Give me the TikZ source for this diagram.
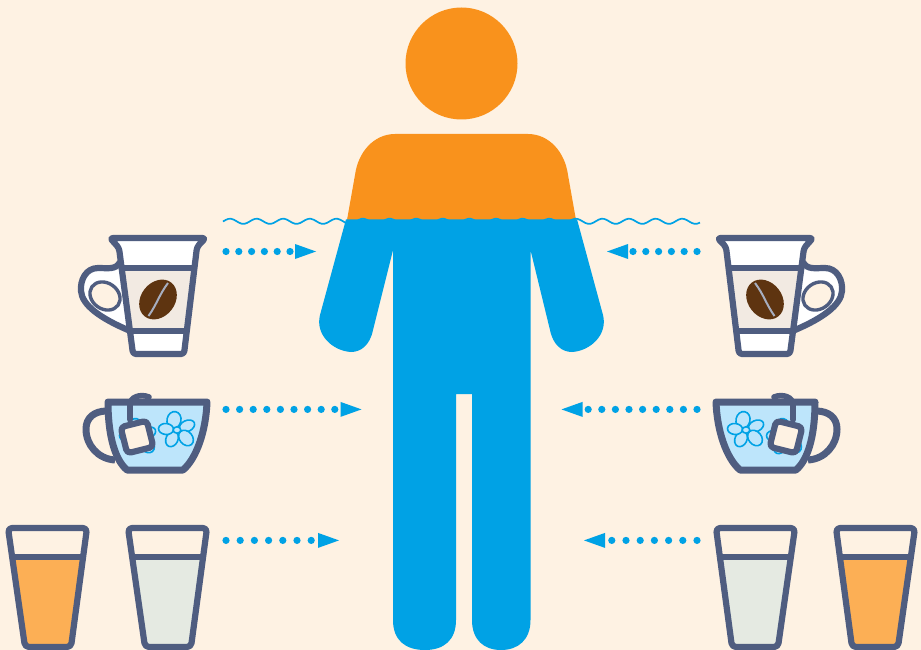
\documentclass[tikz,border=0pt]{standalone}
\usepackage{tikz}
\usetikzlibrary{arrows.meta}
\usepackage{xcolor}
\definecolor{paper}{HTML}{FEF2E3}
\definecolor{skin}{HTML}{F9921C}
\definecolor{water}{HTML}{00A2E5}
\definecolor{ink}{HTML}{4F5D80}
\definecolor{juice}{HTML}{FCAF55}
\definecolor{milk}{HTML}{E5EAE2}
\definecolor{crema}{HTML}{F2EAE2}
\definecolor{bean}{HTML}{5E3410}
\definecolor{tea}{HTML}{BDE5FB}

\tikzset{
    outline/.style={draw=ink, line width=6.2pt, line join=round},
    thickline/.style={draw=ink, line width=7pt, line join=round},
    petal/.style={draw=water, fill=tea, line width=1.6pt},
    flow/.style={
        draw=water,
        line width=7.2pt,
        line cap=round,
        dash pattern=on 0pt off #1pt,
        -{Triangle[length=21pt,width=15pt,line width=0pt]}
    },
    pics/flower/.style={code={
        \draw[petal] (-3,-10) ellipse [x radius=7, y radius=8.5, rotate=-12];
        \draw[petal] (10,-4) ellipse [x radius=8, y radius=5.5, rotate=25];
        \draw[petal] (9,8) ellipse [x radius=8.5, y radius=6.5, rotate=-50];
        \draw[petal] (-5,9) ellipse [x radius=6, y radius=8, rotate=-25];
        \draw[petal] (-11,-1) ellipse [x radius=7.5, y radius=5.5, rotate=-5];
        \draw[petal] (0,0) ellipse [x radius=3.8, y radius=3.2];
    }},
    pics/coffeecup/.style={code={
        % Handle
        \fill[white] (120,262) .. controls (116,270) and (108,268) .. (98,268)
            .. controls (86,268) and (80,280) .. (81,291)
            .. controls (82,305) and (100,318) .. (128,330) -- cycle;
        \draw[outline] (120,262) .. controls (116,270) and (108,268) .. (98,268)
            .. controls (86,268) and (80,280) .. (81,291)
            .. controls (82,305) and (100,318) .. (128,330);
        \draw[draw=ink, line width=3.4pt, fill=paper] (105,296) ellipse [x radius=16, y radius=13, rotate=-35];
        % Body
        \fill[white, rounded corners=3pt] (110,238) -- (205.5,238) -- (197,247) -- (184,354) -- (133,354) -- (119,248) -- cycle;
        \fill[crema] (121.6,268) -- (194.4,268) -- (186.8,331) -- (130,331) -- cycle;
        \draw[outline] (121.6,268) -- (194.4,268);
        \draw[outline] (130,331) -- (186.8,331);
        \draw[outline, rounded corners=3pt] (110,238) -- (205.5,238) -- (197,247) -- (184,354) -- (133,354) -- (119,248) -- cycle;
        % Bean
        \fill[bean] (158,299.5) ellipse [x radius=21.5, y radius=17, rotate=52];
        \draw[draw=ink!50, line width=2pt] (148.5,316) .. controls (157,304) and (159,295) .. (168,283);
    }},
    pics/teacup/.style={code={
        % Handle
        \draw[thickline] (107,411) .. controls (94,411) and (86,418) .. (86,429)
            .. controls (86,445) and (98,459) .. (115,460);
        % Body
        \draw[thickline, fill=tea] (108,402) .. controls (108,430) and (113,458) .. (127,470)
            -- (183,470) .. controls (197,458) and (206,430) .. (207,402) -- cycle;
        \pic at (177,430) {flower};
        \pic at (138,437) {flower};
        % Tag
        \draw[draw=ink, line width=5.6pt, line cap=round] (130,420) -- (130,405)
            .. controls (130,397) and (140,393.5) .. (149,397);
        \draw[outline, fill=paper, rounded corners=4pt, rotate around={14:(137,437)}]
            (123.5,423.5) rectangle (150.5,450.5);
    }},
    pics/glass/.style={code={
        \fill[#1] (12.2,557.3) -- (83,557.3) -- (71,647) -- (25,647) -- cycle;
        \draw[outline] (12.2,557.3) -- (83,557.3);
        \draw[outline, rounded corners=4pt] (8,528) -- (87,528) -- (71,647) -- (25,647) -- cycle;
    }}
}

\begin{document}
\begin{tikzpicture}[x=1pt, y=-1pt]
    \fill[paper] (0,0) rectangle (921,650);
    \useasboundingbox (0,0) rectangle (921,650);

    % Head and shoulders
    \node[circle, fill=skin, inner sep=0pt, minimum size=112pt] (head) at (461.5,63.5) {};
    \fill[skin] (347,220) -- (355,175) .. controls (358,152) and (374,134) .. (395,134)
        -- (528,134) .. controls (549,134) and (565,152) .. (568,175) -- (576,220) -- cycle;

    % Water line
    \draw[water, line width=1.7pt] plot[domain=0:477, samples=180]
        (223+\x, {221.3 - 2.6*cos((\x-7)*13.534)});

    % Body
    \fill[water] (346,219.3) -- (577,219.3) -- (603,315)
        .. controls (608,335) and (590,351) .. (572,352)
        .. controls (562,352) and (553,345) .. (550,330)
        -- (530.5,250) -- (530.5,620)
        .. controls (530.5,640) and (518,650) .. (501,650)
        .. controls (484,650) and (472,640) .. (472,620)
        -- (472,394) -- (456,394) -- (456,620)
        .. controls (456,640) and (444,650) .. (425,650)
        .. controls (405,650) and (393,640) .. (393,620)
        -- (393,250) -- (373,330)
        .. controls (370,345) and (361,352) .. (351,352)
        .. controls (333,351) and (315,335) .. (320,315) -- cycle;

    % Drinks, left
    \pic at (0,0) {coffeecup};
    \pic at (0,0) {teacup};
    \pic at (0,0) {glass=juice};
    \pic at (120,0) {glass=milk};

    % Drinks, right
    \pic[xscale=-1] at (923,0) {coffeecup};
    \pic[xscale=-1] at (923,0) {teacup};
    \pic[xscale=-1] at (923,0) {glass=juice};
    \pic[xscale=-1] at (803,0) {glass=milk};

    % Arrow ends
    \coordinate (coffeeL) at (226,251.5);
    \coordinate (coffeeLtip) at (316,251.5);
    \coordinate (teaL) at (226,409.4);
    \coordinate (teaLtip) at (361.5,409.4);
    \coordinate (glassL) at (226,540.4);
    \coordinate (glassLtip) at (339,540.4);
    \coordinate (coffeeR) at (697,251.5);
    \coordinate (coffeeRtip) at (607,251.5);
    \coordinate (teaR) at (697,409.4);
    \coordinate (teaRtip) at (561.5,409.4);
    \coordinate (glassR) at (697,540.4);
    \coordinate (glassRtip) at (584,540.4);

    % Arrows
    \draw[flow=12.8] (coffeeL) -- (coffeeLtip);
    \draw[flow=13.6] (teaL) -- (teaLtip);
    \draw[flow=14.2] (glassL) -- (glassLtip);
    \draw[flow=12.8] (coffeeR) -- (coffeeRtip);
    \draw[flow=13.6] (teaR) -- (teaRtip);
    \draw[flow=14.2] (glassR) -- (glassRtip);
\end{tikzpicture}
\end{document}
